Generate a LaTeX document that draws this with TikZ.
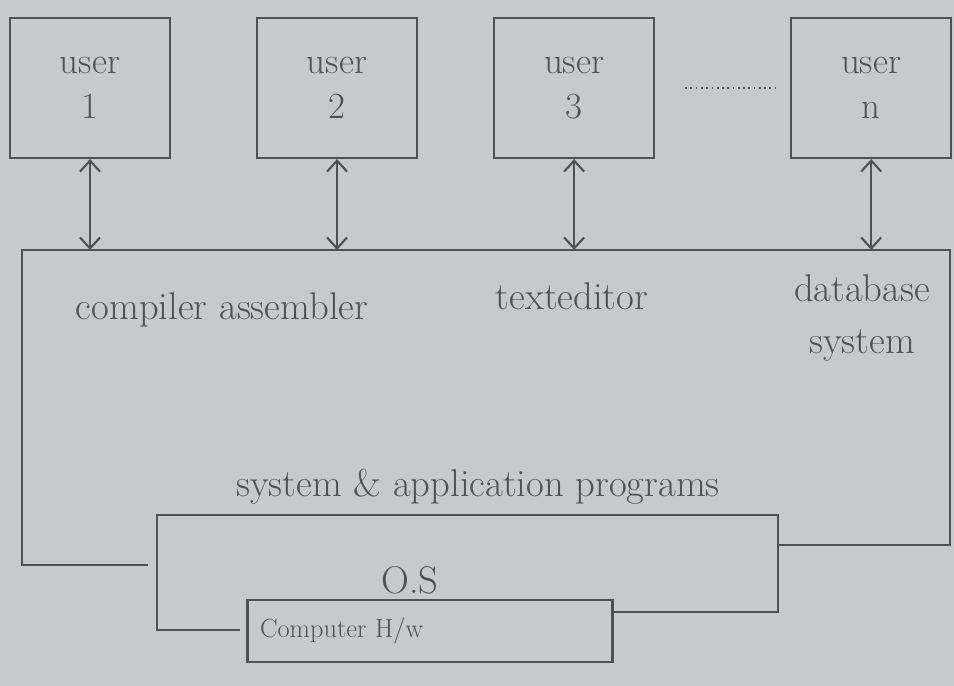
\documentclass[tikz,border=0pt]{standalone}
\usepackage{xcolor}
\usepackage{tikz}
\usetikzlibrary{positioning, arrows.meta}

\definecolor{paper}{RGB}{198,202,206}
\definecolor{pencil}{RGB}{80,80,84}

\begin{document}
\begin{tikzpicture}[
        x=0.02cm, y=-0.02cm,
        line width=1.2pt, draw=pencil, text=pencil,
        userbox/.style={
            rectangle, draw=pencil, line width=1.2pt,
            minimum width=3.2cm, minimum height=2.8cm,
            align=center, font=\fontsize{21}{26}\selectfont
        },
        hwbox/.style={
            rectangle, draw=pencil, line width=1.2pt,
            minimum width=7.3cm, minimum height=1.24cm,
            text width=6.8cm, align=left, font=\fontsize{15}{18}\selectfont
        },
        label/.style={font=\fontsize{22}{30}\selectfont, align=center},
        link/.style={<->, line width=1.2pt, >={Straight Barb[length=2.2mm, width=4mm]}},
        frame/.style={line width=1.2pt, draw=pencil}
    ]
        \path[use as bounding box, fill=paper] (0,0) rectangle (954,686);

        % users
        \node[userbox] (user1) at (90,88) {user\\1};
        \node[userbox, right=1.7cm of user1] (user2) {user\\2};
        \node[userbox, right=1.5cm of user2] (user3) {user\\3};
        \node[userbox, right=2.7cm of user3] (usern) {user\\n};
        \draw[dotted, line width=1pt, shorten <=0.6cm, shorten >=0.3cm] (user3) -- (usern);

        % system and application programs
        \coordinate (top) at (22,250);
        \draw[frame] (148,565) -| (top) -- (950,250) |- (778,545);
        \draw[link] (user1) -- (user1 |- top);
        \draw[link] (user2) -- (user2 |- top);
        \draw[link] (user3) -- (user3 |- top);
        \draw[link] (usern) -- (usern |- top);

        \node[label] (comp) at (222,310) {compiler assembler};
        \node[label] (edit) at (572,296) {texteditor};
        \node[label] (dbs) at (862,318) {database\\system};
        \node[label] (sap) at (478,487) {system \& application programs};

        % operating system and hardware
        \node[hwbox] (hw) at (430,631) {Computer H/w};
        \draw[frame] (240,630) -| (157,515) -| (778,612) -- (hw.east |- 0,612);
        \node[label] (os) at (410,580) {O.S};
    \end{tikzpicture}
\end{document}
